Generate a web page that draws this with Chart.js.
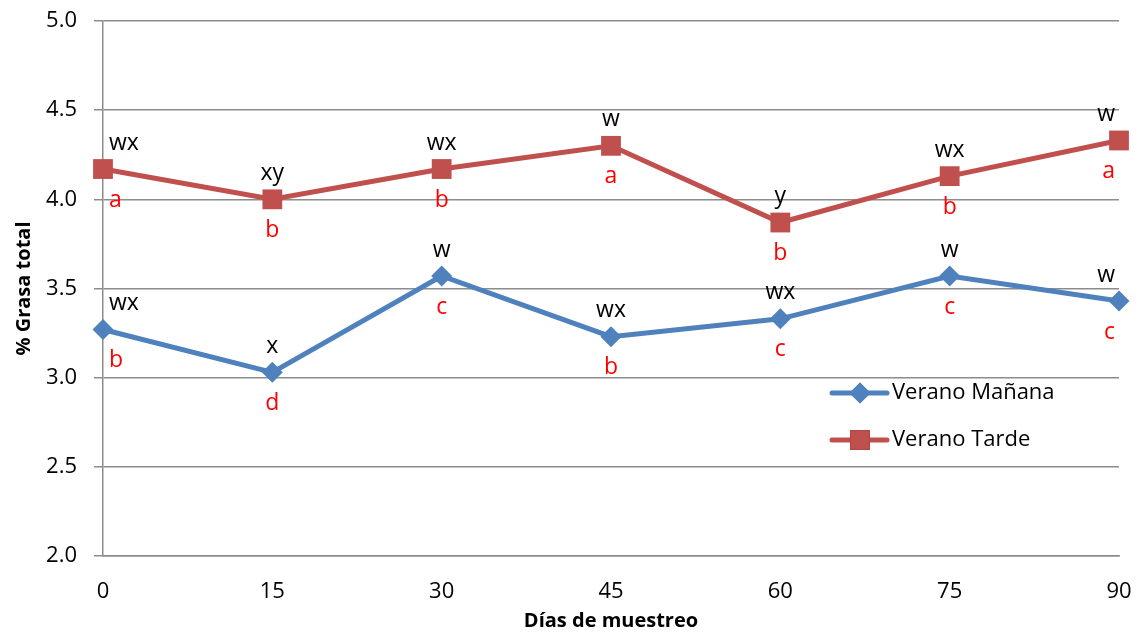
<!DOCTYPE html>
<html>
<head>
<meta charset="utf-8">
<script src="https://cdn.jsdelivr.net/npm/chart.js@4.4.1/dist/chart.umd.min.js"></script>
<style>
  html, body { margin: 0; padding: 0; background: #fff; }
  #wrap { width: 1142px; height: 635px; }
</style>
</head>
<body>
<div id="wrap"><canvas id="grasaChart" width="1142" height="635"></canvas></div>
<script>
  // data
  const dias = ['0', '15', '30', '45', '60', '75', '90'];
  const veranoManana = [3.27, 3.03, 3.57, 3.23, 3.33, 3.57, 3.43];
  const veranoTarde = [4.17, 4.00, 4.17, 4.30, 3.87, 4.13, 4.33];
  const mananaTop = ['wx', 'x', 'w', 'wx', 'wx', 'w', 'w'];
  const mananaBottom = ['b', 'd', 'c', 'b', 'c', 'c', 'c'];
  const tardeTop = ['wx', 'xy', 'wx', 'w', 'y', 'wx', 'w'];
  const tardeBottom = ['a', 'b', 'b', 'a', 'b', 'b', 'a'];
  const yTicks = [2.0, 2.5, 3.0, 3.5, 4.0, 4.5, 5.0];

  const FONT = '"Open Sans", "Liberation Sans", sans-serif';
  const BLUE = '#4F81BD';
  const RED = '#C0504D';
  const GRID = '#8C8C8C';

  // letters above (black) and below (red) each point
  const letterLabels = {
    id: 'letterLabels',
    afterDatasetsDraw(chart) {
      const ctx = chart.ctx;
      ctx.save();
      ctx.font = '23px ' + FONT;
      ctx.textBaseline = 'middle';
      chart.data.datasets.forEach((ds, i) => {
        const meta = chart.getDatasetMeta(i);
        const last = meta.data.length - 1;
        meta.data.forEach((pt, j) => {
          let align = 'center', dx = 0;
          if (j === 0) { align = 'left'; dx = 6; }
          if (j === last) { align = 'right'; dx = -4; }
          ctx.textAlign = align;
          ctx.fillStyle = '#000000';
          ctx.fillText(ds.topLetters[j], pt.x + dx, pt.y - 26);
          ctx.fillStyle = '#FF0000';
          ctx.fillText(ds.bottomLetters[j], pt.x + dx, pt.y + 31);
        });
      });
      ctx.restore();
    }
  };

  // legend drawn inside the plot, as in the original
  const insideLegend = {
    id: 'insideLegend',
    afterDraw(chart) {
      const ctx = chart.ctx;
      const area = chart.chartArea;
      const x0 = area.right - 287;
      const rows = [area.top + 372, area.top + 419];
      ctx.save();
      chart.data.datasets.forEach((ds, i) => {
        const y = rows[i];
        ctx.strokeStyle = ds.borderColor;
        ctx.lineWidth = ds.borderWidth;
        ctx.lineCap = 'round';
        ctx.beginPath();
        ctx.moveTo(x0, y);
        ctx.lineTo(x0 + 55, y);
        ctx.stroke();
        Chart.helpers.drawPoint(ctx, {
          pointStyle: ds.pointStyle,
          radius: ds.pointRadius,
          borderWidth: 0
        }, x0 + 28, y);
        ctx.fillStyle = ds.pointBackgroundColor;
        ctx.fill();
        ctx.fillStyle = '#000000';
        ctx.font = '22px ' + FONT;
        ctx.textAlign = 'left';
        ctx.textBaseline = 'middle';
        ctx.fillText(ds.label, x0 + 60, y);
      });
      ctx.restore();
    }
  };

  function renderChart() {
    const ctx = document.getElementById('grasaChart').getContext('2d');
    return new Chart(ctx, {
      type: 'line',
      data: {
        labels: dias,
        datasets: [{
          label: 'Verano Mañana',
          data: veranoManana,
          topLetters: mananaTop,
          bottomLetters: mananaBottom,
          borderColor: BLUE,
          backgroundColor: BLUE,
          pointBackgroundColor: BLUE,
          pointBorderColor: BLUE,
          pointStyle: 'rectRot',
          pointRadius: 10.5,
          pointBorderWidth: 0,
          borderWidth: 5,
          tension: 0,
          clip: false
        }, {
          label: 'Verano Tarde',
          data: veranoTarde,
          topLetters: tardeTop,
          bottomLetters: tardeBottom,
          borderColor: RED,
          backgroundColor: RED,
          pointBackgroundColor: RED,
          pointBorderColor: RED,
          pointStyle: 'rect',
          pointRadius: 14,
          pointBorderWidth: 0,
          borderWidth: 5,
          tension: 0,
          clip: false
        }]
      },
      options: {
        responsive: false,
        animation: false,
        layout: { autoPadding: false, padding: { left: 0, right: 23, top: 21, bottom: 0 } },
        plugins: {
          legend: { display: false },
          tooltip: { enabled: false }
        },
        scales: {
          x: {
            offset: false,
            grid: { display: false },
            border: { display: true, color: GRID, width: 1.5 },
            ticks: { color: '#000', font: { family: FONT, size: 22 }, padding: 15, maxRotation: 0 },
            title: {
              display: true,
              text: 'Días de muestreo',
              color: '#000',
              font: { family: FONT, size: 20, weight: 'bold' },
              padding: { top: 0, bottom: 2 }
            },
            afterFit: scale => {
              scale.height = 79;
              scale.paddingLeft = 0;
              scale.paddingRight = 0;
            }
          },
          y: {
            min: 2.0,
            max: 5.0,
            afterBuildTicks: scale => { scale.ticks = yTicks.map(v => ({ value: v })); },
            grid: { color: GRID, lineWidth: 1.5, tickLength: 9, tickColor: GRID },
            border: { display: true, color: GRID, width: 1.5 },
            ticks: {
              color: '#000',
              font: { family: FONT, size: 22 },
              padding: 17,
              callback: val => Number(val).toFixed(1)
            },
            title: {
              display: true,
              text: '% Grasa total',
              color: '#000',
              font: { family: FONT, size: 20, weight: 'bold' },
              padding: { top: 12, bottom: 0 }
            },
            afterFit: scale => {
              scale.width = 103;
              scale.paddingTop = 0;
              scale.paddingBottom = 0;
            }
          }
        }
      },
      plugins: [letterLabels, insideLegend]
    });
  }

  document.addEventListener('DOMContentLoaded', () => {
    renderChart();
  });
</script>
</body>
</html>
